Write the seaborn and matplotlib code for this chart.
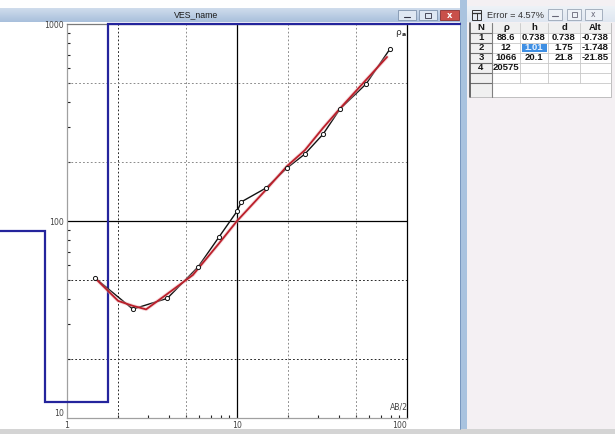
import numpy as np
import seaborn as sns
import matplotlib
matplotlib.use("Agg")
import matplotlib.pyplot as plt
from matplotlib.patches import Rectangle
from matplotlib.colors import LinearSegmentedColormap
from matplotlib.ticker import LogLocator, NullFormatter, FixedLocator, FixedFormatter

# Field sounding: half current-electrode spacing AB/2 (m) and apparent resistivity (Ohm*m)
ab2_obs = [1.46, 2.44, 3.89, 5.9, 7.84, 10.0, 10.6, 14.8, 19.7, 25.1, 32.1, 40.3, 57.4, 79.4]
rho_obs = [51.4, 35.7, 40.5, 58.4, 83.0, 112, 125, 147, 186, 219, 276, 370, 496, 747]

# Computed response of the fitted layered model
ab2_fit = [1.46, 2.0, 2.44, 2.92, 3.67, 5.5, 7.84, 10.0, 14.8, 19.7, 25.1, 32.1, 40.3, 57.4, 76.3]
rho_fit = [51.4, 39.3, 37.1, 35.6, 41.1, 53.2, 77.0, 100, 144, 190, 229, 297, 372, 520, 680]

# Layered model (resistivity, thickness, depth to bottom, altitude of bottom)
layer_n = [1, 2, 3, 4]
layer_rho = [88.6, 12, 1066, 20575]
layer_h = [0.738, 1.01, 20.1]
layer_d = [0.738, 1.75, 21.8]
layer_alt = [-0.738, -1.748, -21.85]
fit_error = 4.57

x_ticks = [1, 10, 100]
y_ticks = [10, 100, 1000]
x_grid = [2, 5, 20, 50]
y_grid = [20, 50, 200, 500]
x_grid_colors = ["#262626", "#8a8a8a", "#8a8a8a", "#8a8a8a"]
y_grid_colors = ["#262626", "#262626", "#8a8a8a", "#8a8a8a"]

sns.set_style("white")
plt.rcParams["font.family"] = ["Liberation Sans Narrow", "DejaVu Sans"]

W, H = 615, 434
fig = plt.figure(figsize=(W / 100, H / 100), dpi=100)
fig.patch.set_facecolor("white")


def frac(x0, y0, x1, y1):
    return [x0 / W, 1 - y1 / H, (x1 - x0) / W, (y1 - y0) / H]


# ---------- window chrome (pixel coordinates, origin top-left) ----------
bg = fig.add_axes([0, 0, 1, 1], zorder=0)
bg.axis("off")


def box(x0, y0, x1, y1, fc="none", ec="none", lw=0.8, z=1):
    bg.add_patch(Rectangle((x0, y0), x1 - x0, y1 - y0, facecolor=fc,
                           edgecolor=ec, linewidth=lw, zorder=z))


# main window title bar
tb = LinearSegmentedColormap.from_list("tb", ["#cfdcec", "#a9c0dc"])
bg.imshow(np.linspace(0, 1, 20).reshape(-1, 1), cmap=tb, extent=(0, 460, 22, 8),
          aspect="auto", zorder=1)
bg.text(196, 15, "VES_name", ha="center", va="center", fontsize=6.3,
        family=["Liberation Sans", "DejaVu Sans"], color="#1a1a1a", zorder=3)
# caption buttons
box(398, 10, 416, 20, fc="#dfe8f3", ec="#7f93ad", lw=0.6, z=2)
bg.plot([404, 410], [16.5, 16.5], color="#334", lw=0.8, zorder=3)
box(419, 10, 437, 20, fc="#dfe8f3", ec="#7f93ad", lw=0.6, z=2)
box(425, 12.5, 431, 17.5, fc="none", ec="#334", lw=0.6, z=3)
box(440, 10, 459, 20, fc="#c9504a", ec="#8a3030", lw=0.6, z=2)
bg.text(449.5, 15, "x", ha="center", va="center", fontsize=6, color="white",
        fontweight="bold", zorder=3)

# separator between the two windows
box(460, 0, 466.5, 429, fc="#a9c3df", z=1)
bg.plot([460.3, 460.3], [22, 429], color="#6f8fb8", lw=0.6, zorder=2)

# right window (layer table)
box(466.5, 0, W, 429, fc="#f4f0f3", z=1)
tb2 = LinearSegmentedColormap.from_list("tb2", ["#eef2f7", "#dfe7f1"])
bg.imshow(np.linspace(0, 1, 20).reshape(-1, 1), cmap=tb2, extent=(466.5, W, 22, 6),
          aspect="auto", zorder=1)
# window icon
box(472, 10, 481, 20, fc="none", ec="#333", lw=0.7, z=3)
bg.plot([472, 481], [12.5, 12.5], color="#333", lw=0.9, zorder=3)
bg.plot([476.5, 476.5], [12.5, 20], color="#333", lw=0.7, zorder=3)
bg.text(487, 15, f"Error = {fit_error}%", ha="left", va="center", fontsize=6.6,
        family=["Liberation Sans", "DejaVu Sans"], color="#333", zorder=3)
for bx0, bx1 in [(548, 562), (567, 581), (585, 602)]:
    box(bx0, 9, bx1, 20, fc="#eef2f7", ec="#9aa6b6", lw=0.6, z=2)
bg.plot([552, 558], [16, 16], color="#667", lw=0.8, zorder=3)
box(571.5, 12, 576.5, 17, fc="none", ec="#667", lw=0.6, z=3)
bg.text(593.5, 14.5, "x", ha="center", va="center", fontsize=5.5, color="#667", zorder=3)

# table
cols = [470, 492, 520, 548, 580, 611]
centers = [(a + b) / 2 for a, b in zip(cols[:-1], cols[1:])]
top, rh = 23, 10
box(cols[0], top, cols[-1], 97, fc="white", ec="#b5b5b5", lw=0.6, z=1)
box(cols[0], top, cols[-1], top + rh, fc="#f0f0f0", z=1)
box(cols[0], top, cols[1], 97, fc="#f0f0f0", z=1)
n_rows = len(layer_n) + 1
for i in range(n_rows + 1):
    yl = top + rh * (i + 1)
    bg.plot([cols[0], cols[-1]], [yl, yl], color="#c8c8c8", lw=0.6, zorder=2)
    bg.plot([cols[0], cols[1]], [yl, yl], color="#707070", lw=0.8, zorder=2)
for xc in cols[1:-1]:
    bg.plot([xc, xc], [top, top + rh * (n_rows + 1)], color="#c8c8c8", lw=0.6, zorder=2)
bg.plot([cols[0], cols[0]], [top, 97], color="#505050", lw=1.2, zorder=2)
bg.plot([cols[1], cols[1]], [top, 97], color="#808080", lw=0.8, zorder=2)

tfont = dict(fontsize=6.8, fontweight="bold", color="#151515", ha="center",
             va="center", zorder=4, family=["Liberation Sans", "DejaVu Sans"])
for c, lab in zip(centers, ["N", "ρ", "h", "d", "Alt"]):
    bg.text(c, top + rh / 2, lab, **tfont)

# highlighted (selected) cell: thickness of layer 2
sel_row, sel_col = 1, 2
box(cols[sel_col] + 1.5, top + rh * (sel_row + 1) + 0.8, cols[sel_col + 1] - 1.5,
    top + rh * (sel_row + 2) - 0.8, fc="#3f8fe3", z=3)

for i, n in enumerate(layer_n):
    yc = top + rh * (i + 1) + rh / 2
    cells = [str(n), f"{layer_rho[i]:g}"]
    if i < len(layer_h):
        cells += [f"{layer_h[i]:g}", f"{layer_d[i]:g}", f"{layer_alt[i]:g}"]
    for j, txt in enumerate(cells):
        col = "#e8f2ff" if (i == sel_row and j == sel_col) else "#151515"
        bg.text(centers[j], yc, txt, **{**tfont, "color": col})

# bottom status strip
box(0, 429, W, H, fc="#d4d4d4", z=1)

bg.set_xlim(0, W)
bg.set_ylim(H, 0)

# ---------- sounding plot ----------
ax = fig.add_axes(frac(67, 24, 407, 418), zorder=2)
ax.patch.set_alpha(0)
ax.set_xscale("log")
ax.set_yscale("log")
ax.set_xlim(x_ticks[0], x_ticks[-1])
ax.set_ylim(y_ticks[0], y_ticks[-1])

for gx, gc in zip(x_grid, x_grid_colors):
    ax.axvline(gx, color=gc, lw=0.7, ls=(0, (1.8, 2.2)), zorder=1)
for gy, gc in zip(y_grid, y_grid_colors):
    ax.axhline(gy, color=gc, lw=0.7, ls=(0, (1.8, 2.2)), zorder=1)
ax.axvline(x_ticks[1], color="black", lw=0.9, zorder=1)
ax.axhline(y_ticks[1], color="black", lw=0.9, zorder=1)

# layered model as a step curve, running off the plot edges like the screen window
inv = ax.transData.inverted()
x_left = inv.transform(fig.transFigure.transform((0, 0.5)))[0]
x_right = inv.transform(fig.transFigure.transform((460 / W, 0.5)))[0]
step_x, step_y = [x_left], [layer_rho[0]]
for k, dep in enumerate(layer_d):
    step_x += [dep, dep]
    step_y += [layer_rho[k], layer_rho[k + 1]]
step_x.append(x_right)
step_y.append(layer_rho[-1])
step_y = np.minimum(step_y, ax.get_ylim()[1])
ax.plot(step_x, step_y, color="#24249c", lw=1.6, clip_on=False, zorder=3,
        solid_joinstyle="miter")

# observed and computed curves
sns.lineplot(x=ab2_obs, y=rho_obs, ax=ax, color="#111111", lw=1.0,
             sort=False, estimator=None, zorder=4)
sns.lineplot(x=ab2_fit, y=rho_fit, ax=ax, color="#eaa9b0", lw=2.6, alpha=0.45,
             sort=False, estimator=None, zorder=5)
sns.lineplot(x=ab2_fit, y=rho_fit, ax=ax, color="#bb1f2a", lw=1.3,
             sort=False, estimator=None, zorder=5)
sns.scatterplot(x=ab2_obs, y=rho_obs, ax=ax, marker="o", s=9, facecolor="white",
                edgecolor="#111111", linewidth=0.7, zorder=6)

# axes frame
for side, col in [("left", "#a0a0a0"), ("bottom", "#a0a0a0"), ("top", "#7a7a7a"),
                  ("right", "black")]:
    ax.spines[side].set_color(col)
    ax.spines[side].set_linewidth(0.9)

ax.xaxis.set_major_locator(FixedLocator(x_ticks))
ax.xaxis.set_major_formatter(FixedFormatter([f"{v:g}" for v in x_ticks]))
ax.yaxis.set_major_locator(FixedLocator(y_ticks))
ax.yaxis.set_major_formatter(FixedFormatter([f"{v:g}" for v in y_ticks]))
for axis in (ax.xaxis, ax.yaxis):
    axis.set_minor_locator(LogLocator(base=10, subs=range(2, 10)))
    axis.set_minor_formatter(NullFormatter())
ax.tick_params(which="both", left=True, bottom=True, right=False, top=False)
ax.tick_params(which="minor", direction="in", length=2.3, width=0.8, color="#222222")
ax.tick_params(which="major", length=0, labelsize=5.6, labelcolor="#444444", pad=2)
ylabs = ax.get_yticklabels()
ylabs[0].set_va("bottom")
xlabs = ax.get_xticklabels()
xlabs[-1].set_ha("right")

ax.annotate("AB/2", xy=(1, 0), xycoords="axes fraction", xytext=(1, 6),
            textcoords="offset pixels", ha="right", va="bottom", fontsize=5.6,
            color="#444444")
ax.annotate("ρ", xy=(1, 1), xycoords="axes fraction", xytext=(-6, -4),
            textcoords="offset pixels", ha="right", va="top", fontsize=6.5,
            color="#333333")
ax.annotate("a", xy=(1, 1), xycoords="axes fraction", xytext=(-1, -8),
            textcoords="offset pixels", ha="right", va="top", fontsize=4.5,
            color="#222222", fontweight="bold")
ax.set_xlabel("")
ax.set_ylabel("")

fig.savefig("out.png", dpi=100, facecolor="white")
